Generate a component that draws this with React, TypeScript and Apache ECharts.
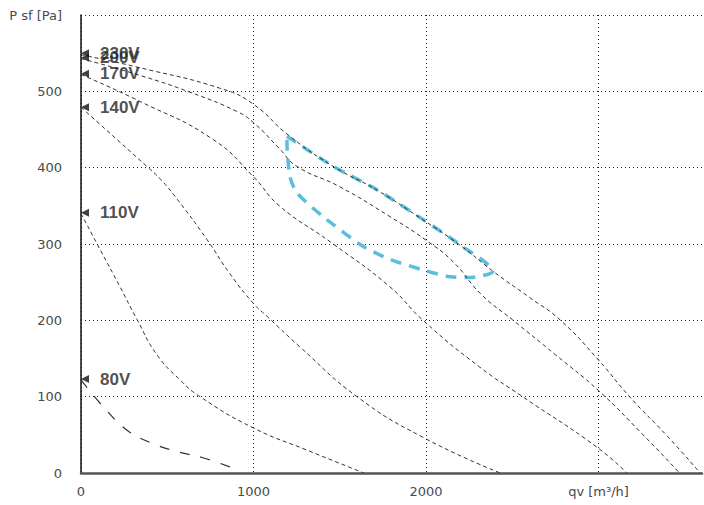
import React, { useEffect, useRef } from "react";
import * as echarts from "echarts";

// flow [m³/h], pressure [Pa]
const q230 = [0, 340, 820, 1000, 1200, 1460, 1720, 1980, 2200, 2390, 2600, 2780, 3000, 3180, 3400, 3590];
const p230 = [548, 531, 503, 483, 443, 402, 370, 332, 298, 264, 230, 200, 148, 100, 48, 0];

const q200 = [0, 340, 630, 900, 1000, 1150, 1250, 1500, 1790, 2000, 2160, 2320, 2500, 2750, 3000, 3250, 3470];
const p200 = [543, 521, 499, 474, 459, 425, 402, 375, 336, 305, 276, 234, 201, 155, 108, 52, 0];

const q170 = [0, 340, 765, 1000, 1150, 1450, 1790, 1983, 2310, 2560, 2990, 3165];
const p170 = [522, 487, 437, 388, 350, 302, 244, 200, 139, 100, 34, 0];

const q140 = [0, 380, 460, 560, 730, 860, 1000, 1080, 1270, 1600, 1980, 2430];
const p140 = [479, 402, 385, 358, 306, 262, 222, 205, 165, 100, 47, 0];

const q110 = [0, 110, 226, 325, 440, 574, 690, 1000, 1310, 1640];
const p110 = [340, 293, 244, 201, 155, 122, 100, 59, 30, 0];

const q80 = [0, 128, 267, 400, 557, 707, 900];
const p80 = [122, 87, 56, 40, 28, 20, 5];

const qArea = [1194, 1461, 1716, 1983, 2197, 2388, 2354, 2255, 2139, 1983, 1791, 1635, 1403, 1252, 1212, 1194, 1194];
const pArea = [441, 402, 371, 332, 299, 264, 260, 256, 257, 266, 280, 297, 336, 367, 388, 433, 441];

const voltLabels = ["230V", "200V", "170V", "140V", "110V", "80V"];
const voltStart = [550, 544, 523, 479, 341, 123];

const xTicks = [0, 1000, 2000, 3000];
const yTicks = [0, 100, 200, 300, 400, 500, 600];
const xName = "qv [m³/h]";
const yName = "P sf [Pa]";

const zip = (a: number[], b: number[]) => a.map((v, i) => [v, b[i]]);

export default function App() {
  const ref = useRef<HTMLDivElement>(null);
  useEffect(() => {
    if (!ref.current) return;
    const chart = echarts.init(ref.current, null, { renderer: "svg" });
    const curveStyle = { color: "#333", width: 1, type: [4, 3] as any };
    const curves = [
      [q230, p230],
      [q200, p200],
      [q170, p170],
      [q140, p140],
      [q110, p110],
    ].map(([q, p]) => ({
      type: "line",
      data: zip(q, p),
      smooth: 0.5,
      showSymbol: false,
      lineStyle: curveStyle,
      z: 3,
    }));
    chart.setOption({
      animation: false,
      grid: { left: 81, right: 2, top: 15, bottom: 32 },
      xAxis: {
        type: "value",
        min: 0,
        max: 3600,
        interval: 1000,
        axisLine: { show: true, lineStyle: { color: "#555", width: 2.5 } },
        axisTick: { show: false },
        axisLabel: {
          margin: 12,
          color: "#4a4a4a",
          fontFamily: "DejaVu Sans",
          fontSize: 13,
          showMaxLabel: false,
          formatter: (v: number) =>
            v === xTicks[3] ? xName : xTicks.includes(v) ? String(v) : "",
        },
        splitLine: {
          show: true,
          showMaxLine: false,
          lineStyle: { color: "#222", width: 1, type: [1, 3] },
        },
      },
      yAxis: {
        type: "value",
        min: 0,
        max: 600,
        interval: 100,
        axisLine: { show: true, lineStyle: { color: "#111", width: 1.5 } },
        axisTick: { show: false },
        axisLabel: {
          margin: 19,
          color: "#4a4a4a",
          fontFamily: "DejaVu Sans",
          fontSize: 13,
          formatter: (v: number) =>
            v === yTicks[6] ? yName : yTicks.includes(v) ? String(v) : "",
        },
        splitLine: {
          show: true,
          lineStyle: { color: "#222", width: 1, type: [1, 3] },
        },
      },
      series: [
        ...curves,
        {
          type: "line",
          data: zip(q80, p80),
          smooth: 0.4,
          showSymbol: false,
          lineStyle: { color: "#333", width: 1.2, type: [10, 11] },
          z: 3,
        },
        {
          type: "line",
          data: zip(qArea, pArea),
          smooth: 0.25,
          showSymbol: false,
          lineStyle: { color: "#5bbfdc", width: 3.5, type: [11, 8] },
          z: 2,
        },
        {
          type: "scatter",
          symbol: "triangle",
          symbolSize: [8, 8],
          symbolRotate: 90,
          symbolOffset: [4, 0],
          itemStyle: { color: "#111" },
          clip: false,
          z: 5,
          data: voltLabels.map((n, i) => ({ name: n, value: [0, voltStart[i]] })),
          label: {
            show: true,
            position: "right",
            distance: 11,
            formatter: "{b}",
            fontFamily: "Liberation Sans",
            fontWeight: "bold",
            fontSize: 17,
            color: "#222",
          },
        },
      ],
    });
    return () => chart.dispose();
  }, []);
  return (
    <div
      ref={ref}
      style={{ position: "fixed", left: 0, top: 0, width: 704, height: 505, background: "#fff" }}
    />
  );
}
